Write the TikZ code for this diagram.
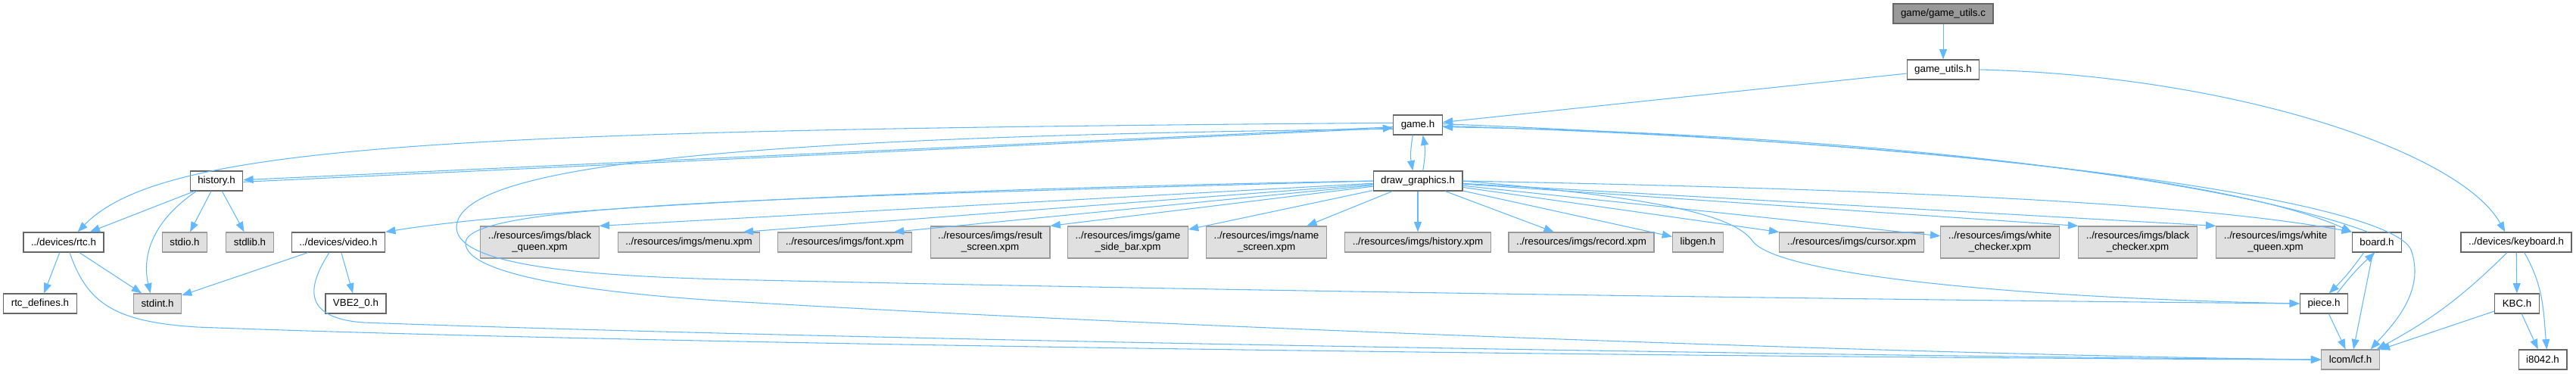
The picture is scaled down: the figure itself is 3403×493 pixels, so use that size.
\documentclass[tikz,border=0pt]{standalone}
\usepackage{fontspec}
\setmainfont{Liberation Sans}
\usetikzlibrary{arrows.meta}
\definecolor{edgeblue}{HTML}{63B8FF}
\definecolor{boxline}{HTML}{666666}
\definecolor{sysline}{HTML}{999999}
\definecolor{sysfill}{HTML}{E0E0E0}
\definecolor{rootfill}{HTML}{999999}
\tikzset{
  file/.style={draw=boxline, fill=white, line width=0.9pt, minimum height=19.5pt,
    inner xsep=7.5pt, inner ysep=0pt, align=center, font=\fontsize{10}{11.25}\selectfont},
  sysfile/.style={file, draw=sysline, fill=sysfill},
  twoline/.style={minimum height=31.5pt},
  dep/.style={draw=edgeblue, line width=0.8pt, -{Triangle[length=10pt,width=7.5pt]}},
}
\begin{document}
\begin{tikzpicture}[x=0.75pt,y=-0.75pt]
\useasboundingbox (0,0) rectangle (3403,493);
% top of the graph
\node[file,fill=rootfill] (root) at (2567,18) {game/game\_utils.c};
\node[file] (gutils) at (2567,92) {game\_utils.h};
\node[file] (game) at (1873,165) {game.h};
\node[file] (graphics) at (1873,239) {draw\_graphics.h};
\node[file] (history) at (286,239) {history.h};

% middle row: name/x/text
\foreach \n/\x/\t in {rtc/84/{../devices/rtc.h}, video/447/{../devices/video.h},
    board/3140/{board.h}, keyboard/3324/{../devices/keyboard.h}}
  \node[file] (\n) at (\x,320) {\t};
\foreach \n/\x/\t in {stdio/244/{stdio.h}, stdlib/330/{stdlib.h},
    menu/910/{../resources/imgs/menu.xpm}, fontxpm/1116/{../resources/imgs/font.xpm},
    hxpm/1873/{../resources/imgs/history.xpm}, record/2089/{../resources/imgs/record.xpm},
    libgen/2243/{libgen.h}, cursor/2446/{../resources/imgs/cursor.xpm}}
  \node[sysfile] (\n) at (\x,320) {\t};
\foreach \n/\x/\t in {bqueen/713/{../resources/imgs/black\\\_queen.xpm},
    result/1308/{../resources/imgs/result\\\_screen.xpm},
    sidebar/1490/{../resources/imgs/game\\\_side\_bar.xpm},
    namescr/1673/{../resources/imgs/name\\\_screen.xpm},
    wcheck/2642/{../resources/imgs/white\\\_checker.xpm},
    bcheck/2824/{../resources/imgs/black\\\_checker.xpm},
    wqueen/3006/{../resources/imgs/white\\\_queen.xpm}}
  \node[sysfile,twoline] (\n) at (\x,320) {\t};

% lower rows
\node[file] (rtcdef) at (53,401) {rtc\_defines.h};
\node[sysfile] (stdint) at (208,401) {stdint.h};
\node[file] (vbe) at (470,401) {VBE2\_0.h};
\node[file] (piece) at (3070,401) {piece.h};
\node[file] (kbc) at (3325,401) {KBC.h};
\node[sysfile] (lcf) at (3105,475) {lcom/lcf.h};
\node[file] (i8042) at (3359,475) {i8042.h};

% game_utils
\draw[dep] (root) -- (gutils);
\draw[dep] (gutils) -- (game);
\draw[dep] (gutils.east) .. controls (2950,100) and (3250,200) .. ([xshift=-11pt]keyboard.north);

% game.h
\draw[dep] ([xshift=-5pt]game.south) to[bend right=10] ([xshift=-5pt]graphics.north);
\draw[dep] ([xshift=5pt]graphics.north) to[bend right=10] ([xshift=5pt]game.south);
\draw[dep] ([yshift=-2pt]game.west) -- ([yshift=1pt]history.east);
\draw[dep] ([yshift=-1pt]history.east) -- ([yshift=-3pt]game.west);
\draw[dep] ([yshift=2pt]game.west) .. controls (600,172) and (215,190) .. ([xshift=14pt]rtc.north);
\draw[dep] ([yshift=-4pt]game.west) .. controls (1000,180) and (605,215) .. (603,300)
  .. controls (603,355) and (800,366) .. (1000,370) .. controls (1800,388) and (2700,398) .. (piece.west);
\draw[dep] ([yshift=-1pt]game.east) .. controls (2500,185) and (2950,235) .. (board.north west);
\draw[dep] ([xshift=-9pt]board.north) .. controls (2950,240) and (2500,178) .. ([yshift=-2pt]game.east);
\draw[dep] ([yshift=1pt]game.east) .. controls (2700,195) and (3160,270) .. (3185,330)
  .. controls (3205,385) and (3160,430) .. ([xshift=20pt]lcf.north);

% draw_graphics.h
\draw[dep] (graphics.west) .. controls (1200,250) and (700,275) .. (video.north east);
\draw[dep] (graphics) -- (bqueen.north east);
\draw[dep] (graphics) -- ([xshift=-17pt]menu.north east);
\draw[dep] (graphics) -- ([xshift=-18pt]fontxpm.north east);
\draw[dep] (graphics) -- (result.north east);
\foreach \t in {sidebar, namescr, hxpm, record, libgen, cursor, wcheck}
  \draw[dep] (graphics) -- (\t);
\draw[dep] (graphics) -- (bcheck.north west);
\draw[dep] (graphics) -- (wqueen.north west);
\draw[dep] (graphics.east) .. controls (2500,250) and (2900,268) .. (board.north west);
\draw[dep] (graphics.east) .. controls (2200,262) and (2290,285) .. (2315,318)
  .. controls (2345,362) and (2650,393) .. (piece.west);
\draw[dep] (graphics.west) .. controls (1000,262) and (620,270) .. (615,320)
  .. controls (612,365) and (800,390) .. (1000,400) .. controls (1600,435) and (2600,470) .. (lcf.west);

% history.h
\draw[dep] ([xshift=-22pt]history.south) -- ([xshift=26pt]rtc.north);
\draw[dep] ([xshift=-20pt]history.south) .. controls (190,300) and (190,350) .. ([xshift=-7pt]stdint.north);
\draw[dep] (history) -- (stdio);
\draw[dep] (history) -- (stdlib);

% devices
\draw[dep] (rtc) -- (rtcdef);
\draw[dep] (rtc) -- (stdint);
\draw[dep] ([xshift=6pt]rtc.south) .. controls (115,400) and (150,425) .. (260,432)
  .. controls (1000,460) and (2600,474) .. (lcf.west);
\draw[dep] (video) -- (stdint);
\draw[dep] (video) -- (vbe);
\draw[dep] ([xshift=-9pt]video.south) .. controls (405,380) and (400,420) .. (480,426)
  .. controls (1200,452) and (2600,472) .. (lcf.west);

% board, piece and keyboard
\draw[dep] ([xshift=-13pt]board.south) to[bend left=5] ([xshift=5pt]piece.north);
\draw[dep] ([xshift=13pt]piece.north) to[bend left=5] ([xshift=-2pt]board.south);
\draw[dep] ([xshift=-4pt]board.south) -- ([xshift=3pt]lcf.north);
\draw[dep] (piece) -- (lcf);
\draw[dep] ([xshift=-9pt]keyboard.south) to[bend left=8] ([xshift=26pt]lcf.north);
\draw[dep] (keyboard) -- (kbc);
\draw[dep] ([xshift=8pt]keyboard.south) to[out=-60,in=95] ([xshift=4pt]i8042.north);
\draw[dep] (kbc) -- (lcf);
\draw[dep] (kbc) -- (i8042);
\end{tikzpicture}
\end{document}
